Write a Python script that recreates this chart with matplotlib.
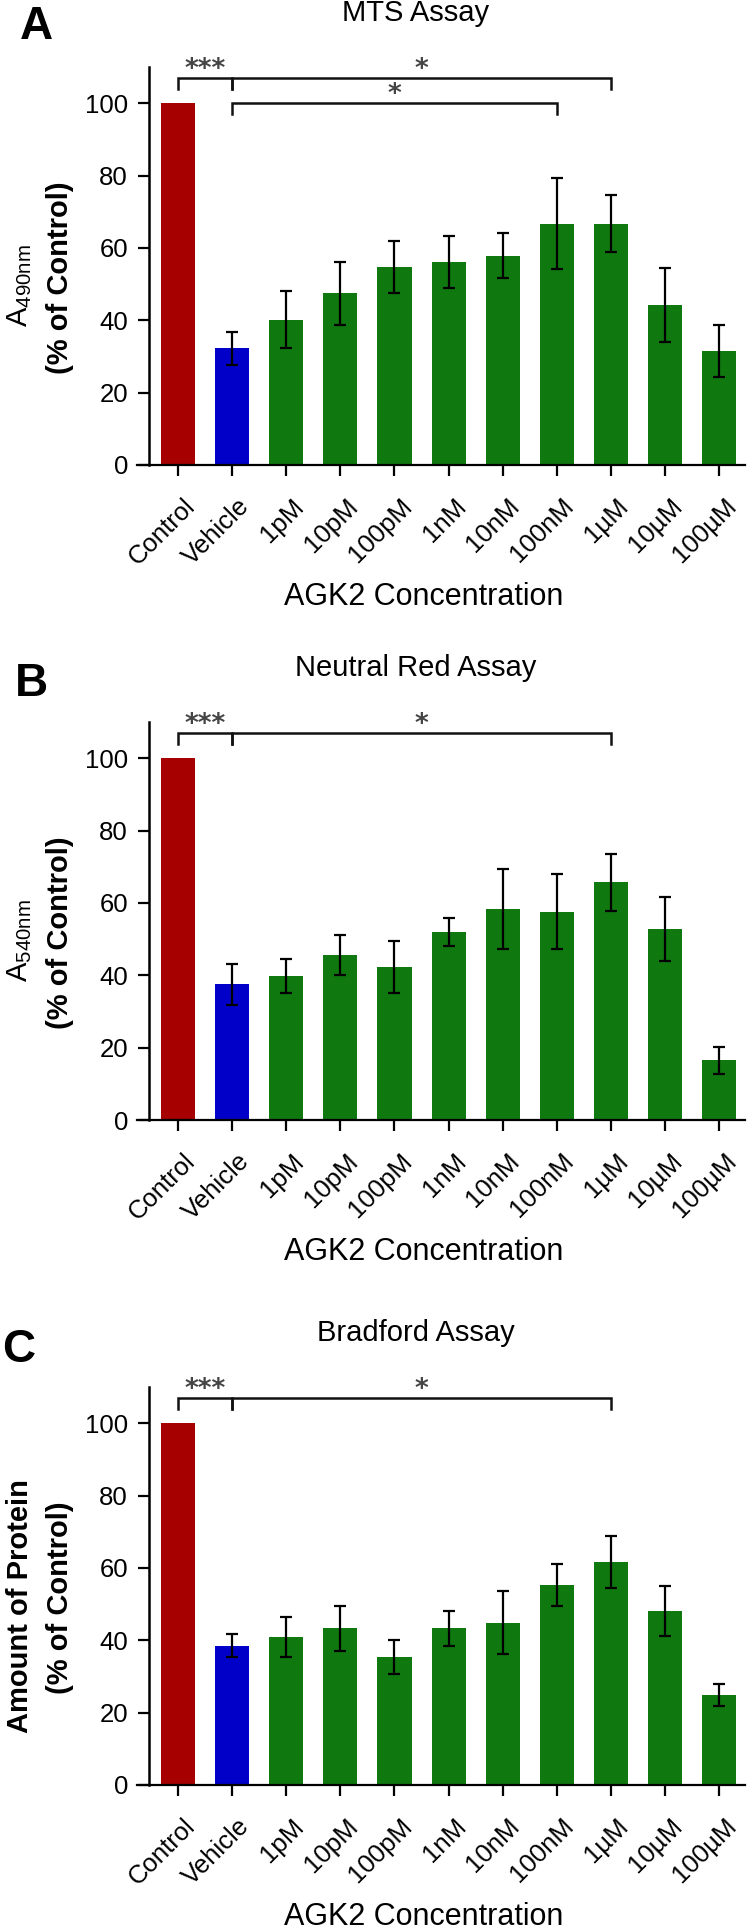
import numpy as np
import matplotlib
matplotlib.use("Agg")
from matplotlib import pyplot as plt
import matplotlib.transforms as mtrans

plt.rcParams['font.family'] = ['Liberation Sans', 'DejaVu Sans']

labels = ['Control', 'Vehicle', '1pM', '10pM', '100pM', '1nM', '10nM', '100nM', '1µM', '10µM', '100µM']

mts_mean = [100, 32.2, 40.2, 47.4, 54.7, 56.2, 57.9, 66.7, 66.7, 44.3, 31.4]
mts_err = [0, 4.6, 8.0, 8.6, 7.2, 7.2, 6.3, 12.6, 7.8, 10.2, 7.2]
nr_mean = [100, 37.5, 39.8, 45.6, 42.3, 52.0, 58.3, 57.6, 65.7, 52.8, 16.5]
nr_err = [0, 5.6, 4.8, 5.5, 7.1, 3.8, 11.1, 10.3, 7.8, 8.8, 3.8]
bf_mean = [100, 38.5, 41.0, 43.3, 35.3, 43.3, 44.9, 55.2, 61.7, 48.1, 24.9]
bf_err = [0, 3.1, 5.5, 6.2, 4.7, 4.8, 8.8, 5.8, 7.2, 7.0, 3.0]

# (group a, group b, stars, bracket level)
mts_sig = [('Control', 'Vehicle', '***', 0), ('Vehicle', '1µM', '*', 0), ('Vehicle', '100nM', '*', 1)]
nr_sig = [('Control', 'Vehicle', '***', 0), ('Vehicle', '1µM', '*', 0)]
bf_sig = [('Control', 'Vehicle', '***', 0), ('Vehicle', '1µM', '*', 0)]

W, H = 750, 1929
bar_colors = ['#a60000', '#0000c8'] + ['#0f780f'] * 9


def px_axes(fig, left, top, right, bottom):
    return fig.add_axes([left / W, 1 - bottom / H, (right - left) / W, (bottom - top) / H])


def draw_panel(fig, top, bottom, means, errs, sig, letter, letter_pos, title, ylab1, ylab2, ylab1_bold):
    ax = px_axes(fig, 137, top, 745, bottom)
    x = np.arange(len(labels))
    ax.bar(x, means, width=0.63, color=bar_colors, zorder=2)
    ax.errorbar(x[1:], means[1:], yerr=errs[1:], fmt='none', ecolor='black',
                elinewidth=1.6, capsize=4.3, capthick=1.6, zorder=3)
    ax.set_xlim(-0.76, 10.48)
    ax.set_ylim(0, 110)
    ax.set_yticks([0, 20, 40, 60, 80, 100])
    ax.set_xticks(x)
    ax.set_xticklabels(labels, rotation=45, ha='right', rotation_mode='anchor')
    ax.tick_params(axis='both', length=8, width=1.6, labelsize=18.5)
    ax.tick_params(axis='y', pad=7)
    ax.tick_params(axis='x', pad=13)
    offset = mtrans.ScaledTranslation(5 / 100, 0, fig.dpi_scale_trans)
    for lbl in ax.get_xticklabels():
        lbl.set_transform(lbl.get_transform() + offset)
    for s in ['top', 'right']:
        ax.spines[s].set_visible(False)
    ax.spines['left'].set_position(('data', -0.54))
    ax.spines['left'].set_linewidth(1.8)
    ax.spines['bottom'].set_linewidth(1.6)

    # significance brackets
    levels = {0: 107, 1: 100}
    for a, b, stars, lev in sig:
        i, j = labels.index(a), labels.index(b)
        y = levels[lev]
        ax.plot([i, i, j, j], [y - 3, y, y, y - 3], color='#111111', lw=1.8,
                clip_on=False, solid_joinstyle='miter', zorder=4)
        ax.text((i + j) / 2, y + 2.2, stars, ha='center', va='center', fontsize=19,
                color='#454545', family='DejaVu Sans', fontweight='bold')

    cy = (top + bottom) / 2
    fig.text(20 / W, 1 - (cy + 20) / H, ylab1, rotation=90, ha='center', va='center',
             fontsize=21, fontweight='bold' if ylab1_bold else 'normal')
    fig.text(60 / W, 1 - (cy + 12) / H, ylab2, rotation=90, ha='center', va='center',
             fontsize=21, fontweight='bold')
    fig.text(letter_pos[0] / W, 1 - letter_pos[1] / H, letter, ha='center', va='center',
             fontsize=33, fontweight='bold')
    fig.text(416 / W, 1 - (top - 54) / H, title, ha='center', va='center', fontsize=21)
    fig.text(424 / W, 1 - (bottom + 132) / H, 'AGK2 Concentration', ha='center', va='center',
             fontsize=22)
    return ax


fig = plt.figure(figsize=(W / 100, H / 100), dpi=100)

draw_panel(fig, 67, 465, mts_mean, mts_err, mts_sig, 'A', (36, 27), 'MTS Assay',
           r'A$_{\mathregular{490nm}}$', '(% of Control)', False)
draw_panel(fig, 722, 1120, nr_mean, nr_err, nr_sig, 'B', (31, 684), 'Neutral Red Assay',
           r'A$_{\mathregular{540nm}}$', '(% of Control)', False)
draw_panel(fig, 1387, 1785, bf_mean, bf_err, bf_sig, 'C', (19, 1350), 'Bradford Assay',
           'Amount of Protein', '(% of Control)', True)

fig.savefig('out.png', dpi=100)
